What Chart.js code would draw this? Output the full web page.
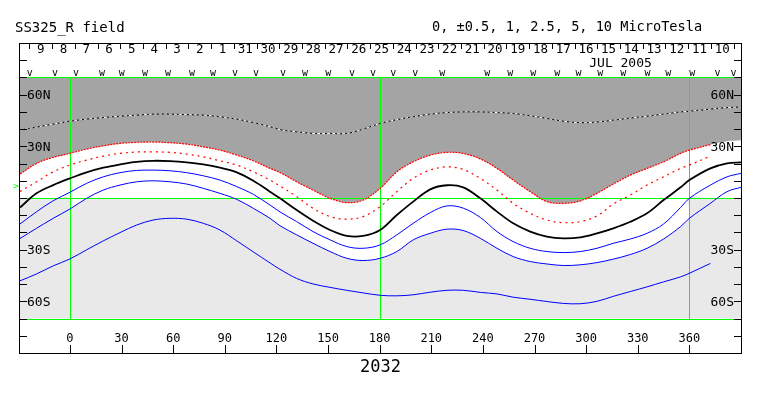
<!DOCTYPE html>
<html>
<head>
<meta charset="utf-8">
<script src="https://cdn.jsdelivr.net/npm/chart.js@4.4.1/dist/chart.umd.min.js"></script>
<style>
  body { margin: 0; background: #fff; }
  #wrap { position: relative; width: 763px; height: 396px; }
  .txt { position: absolute; font-family: "DejaVu Sans Mono", monospace; line-height: 1; white-space: pre; color: #000; }
</style>
</head>
<body>
<div id="wrap">
  <canvas id="map"></canvas>
  <div class="txt" style="left:15px;top:20px;font-size:14px">SS325_R field</div>
  <div class="txt" style="left:432px;top:20px;font-size:13.6px">0, ±0.5, 1, 2.5, 5, 10 MicroTesla</div>
  <div class="txt" style="left:360px;top:358px;font-size:17px">2032</div>
</div>
<script>
// carrington longitude of each reading
const lon = [-29, -19.4, -9.7, 0, 9.7, 19.4, 29.1, 38.8, 48.4, 58.2,
  67.9, 77.5, 87.2, 97, 106.6, 116.3, 122.1, 131.8, 141.3, 151.2,
  160.9, 170.4, 180.3, 190, 199.5, 209.4, 219.1, 228.6, 238.5, 248.2,
  257.6, 267.5, 277.2, 286.7, 296.6, 306.3, 315.8, 325.7, 335.4, 345,
  354.9, 360, 372.2, 381.9, 390]

// contour latitudes
const latWhite = [39.4, 41.2, 42.9, 44.6, 45.8, 46.7, 47.5, 48.1, 48.7, 48.7,
  48.4, 48.1, 47.2, 45.8, 43.8, 41.4, 39.7, 38.4, 37.5, 37.5,
  37.5, 40.0, 43.3, 45.5, 47.2, 48.7, 49.6, 50.0, 50.0, 49.6,
  49.1, 47.8, 46.2, 44.6, 43.7, 44.1, 45.2, 46.4, 47.5, 48.7,
  50.0, 50.4, 51.6, 52.5, 52.8]
// red1 also bounds the dark shading (last two points only shade)
const latRed1 = [13.9, 20.1, 23.6, 25.9, 28.4, 30.3, 31.7, 32.3, 32.5, 32.1,
  31.3, 29.7, 27.8, 24.9, 21.6, 17.2, 14.8, 9.4, 4.6, -0.2,
  -2.7, -1.2, 5.6, 15.2, 21.0, 24.9, 26.5, 25.9, 22.7, 17.2,
  10.4, 3.7, -2.1, -3.1, -1.7, 2.7, 8.1, 13.3, 17.2, 21.0,
  25.9, 27.8, 31.0, 33.0, 33.6]
const red1Points = 43
const latRed2 = [3.8, 9.4, 15.2, 19.1, 22.0, 24.3, 25.9, 26.7, 26.8, 26.5,
  25.5, 23.9, 21.6, 19.1, 15.2, 10.4, 7.0, 0.8, -6.0, -10.8,
  -12.3, -10.8, -5.0, 3.7, 11.4, 16.2, 18.1, 16.6, 11.4, 4.6,
  -3.1, -8.9, -12.8, -14.3, -13.7, -10.4, -3.5, 1.7, 7.5, 12.3,
  17.2, 19.1, 24.3, null, null]
const latNeutral = [-5.5, 2.7, 7.5, 11.4, 14.9, 17.6, 19.5, 21.0, 21.6, 21.4,
  20.7, 19.5, 17.6, 14.9, 10.0, 3.7, -0.2, -7.0, -13.2, -18.6,
  -22.0, -22.0, -18.6, -9.9, -2.1, 5.0, 7.4, 6.2, -0.2, -7.9,
  -14.7, -19.5, -22.4, -23.4, -22.8, -20.5, -17.6, -13.8, -8.9, -1.2,
  6.2, 10.4, 17.2, 20.1, 20.7]
const latBlue1 = [-15.1, -8.0, -1.6, 3.3, 8.5, 12.3, 14.7, 16.0, 16.2, 15.8,
  14.7, 12.9, 10.4, 6.6, 2.1, -4.1, -8.1, -13.7, -19.5, -24.3,
  -28.2, -29.2, -27.2, -21.4, -14.7, -8.5, -4.6, -5.9, -11.3, -19.5,
  -25.3, -29.2, -31.1, -31.7, -31.1, -29.2, -26.3, -23.8, -20.5, -15.1,
  -5.5, -0.2, 7.5, 12.3, 14.3]
const latBlue2 = [-23.5, -17.6, -11.8, -6.4, -0.2, 4.6, 7.5, 9.4, 10.0, 9.4,
  8.1, 5.6, 2.7, -0.8, -6.0, -11.8, -16.1, -21.4, -26.3, -31.1,
  -35.0, -36.3, -35.0, -31.1, -24.3, -20.5, -18.1, -18.9, -23.4, -29.2,
  -34.0, -36.9, -38.3, -39.2, -38.8, -37.5, -35.5, -32.8, -29.2, -23.8,
  -16.6, -11.8, -3.1, 3.7, 6.2]
const latBlue3 = [-48.1, -44.1, -39.4, -35.4, -30.1, -24.9, -20.1, -15.7, -12.8, -11.8,
  -12.3, -14.7, -18.6, -24.9, -31.3, -37.7, -41.4, -46.7, -49.9, -51.9,
  -53.6, -55.1, -56.5, -56.8, -56.2, -54.7, -53.6, -53.6, -54.8, -55.7,
  -57.6, -58.8, -60.1, -61.2, -61.4, -60.0, -57.1, -54.3, -51.6, -48.7,
  -45.8, -43.7, -38.0, null, null]

// axes
const lonTicks = [0, 30, 60, 90, 120, 150, 180, 210, 240, 270, 300, 330, 360]
const latTicks = [-80, -70, -60, -50, -40, -30, -20, -10, 0, 10, 20, 30, 40, 50, 60, 70, 80]
const latLabelVals = [60, 30, -30, -60]
const latLabelText = ["60N", "30N", "30S", "60S"]
const greenLat = [70, 0, -70]
const greenLon = [0, 180, 360]

// date strip on top
const dayLabels = [9, 8, 7, 6, 5, 4, 3, 2, 1, 31, 30, 29, 28, 27, 26, 25, 24, 23, 22, 21, 20, 19, 18, 17, 16, 15, 14, 13, 12, 11, 10]
const dayStartLon = -23.5
const degPerDay = 360 / 27.2753
const monthText = "JUL 2005"
const monthLon = 320
const obsLon = [-23.3, -8.7, 3.5, 18.6, 30.2, 43.6, 57.0, 71.0, 83.2, 96.0, 108.2, 123.9, 136.7, 150.1, 164.0, 176.2,
  187.9, 200.7, 216.4, 242.5, 255.9, 269.3, 283.2, 295.5, 308.2, 321.6, 335.6, 347.8, 361.7, 376.3, 385.6]
const obsMark = ["v", "v", "v", "w", "w", "w", "w", "w", "w", "v", "v", "v", "w", "w", "v", "v",
  "v", "v", "w", "w", "w", "w", "w", "w", "w", "w", "w", "w", "w", "v", "v"]
const earthLat = 6.7

const pts = (arr) => lon.map((x, i) => ({ x: x, y: arr[i] }))

// light shading: south of the equator, and south of the second blue contour inside 0..360
const lightEdge = []
lon.forEach((x, i) => {
  if (x < 0 || x > 360) {
    lightEdge.push({ x: x, y: 0 })
  } else {
    if (x === 0) lightEdge.push({ x: 0, y: 0 })
    lightEdge.push({ x: x, y: Math.min(0, latBlue2[i]) })
    if (x === 360) lightEdge.push({ x: 360, y: 0 })
  }
})

const line = (data, color, width, extra) => Object.assign({
  data: data, borderColor: color, borderWidth: width, pointRadius: 0,
  tension: 0.35, fill: false, spanGaps: false
}, extra || {})

const decor = {
  id: "decor",
  beforeDatasetsDraw(chart) {
    const { ctx, chartArea: a, scales: { x, y } } = chart
    ctx.save()
    ctx.strokeStyle = "#00ff00"
    ctx.lineWidth = 1
    ctx.beginPath()
    greenLat.forEach(v => {
      const py = Math.round(y.getPixelForValue(v)) + 0.5
      ctx.moveTo(a.left, py); ctx.lineTo(a.right + 1, py)
    })
    greenLon.forEach(v => {
      const px = Math.round(x.getPixelForValue(v)) + 0.5
      ctx.moveTo(px, Math.round(y.getPixelForValue(70)))
      ctx.lineTo(px, Math.round(y.getPixelForValue(-70)))
    })
    ctx.stroke()
    ctx.restore()
  },
  afterDraw(chart) {
    const { ctx, chartArea: a, scales: { x, y } } = chart
    ctx.save()
    ctx.strokeStyle = "#000"
    ctx.fillStyle = "#000"
    ctx.lineWidth = 1
    ctx.strokeRect(a.left - 0.5, a.top + 0.5, a.right - a.left + 1, a.bottom - a.top)

    ctx.beginPath()
    latTicks.forEach(v => {
      const py = Math.round(y.getPixelForValue(v)) + 0.5
      ctx.moveTo(a.left, py); ctx.lineTo(a.left + 7, py)
      ctx.moveTo(a.right - 7, py); ctx.lineTo(a.right + 1, py)
    })
    lonTicks.forEach(v => {
      const px = Math.round(x.getPixelForValue(v)) + 0.5
      ctx.moveTo(px, a.bottom + 1); ctx.lineTo(px, a.bottom - 8)
    })
    for (let k = 0; k <= dayLabels.length; k++) {
      const px = Math.round(x.getPixelForValue(dayStartLon + k * degPerDay)) + 0.5
      ctx.moveTo(px, a.top); ctx.lineTo(px, a.top + 6)
    }
    ctx.stroke()

    ctx.font = '13px "DejaVu Sans Mono"'
    ctx.textBaseline = "middle"
    latLabelVals.forEach((v, i) => {
      const py = y.getPixelForValue(v) + 1
      ctx.textAlign = "left"
      ctx.fillText(latLabelText[i], a.left + 7, py)
      ctx.textAlign = "right"
      ctx.fillText(latLabelText[i], a.right - 7, py)
    })

    ctx.textBaseline = "alphabetic"
    ctx.textAlign = "center"
    ctx.font = '12px "DejaVu Sans Mono"'
    lonTicks.forEach(v => ctx.fillText(String(v), x.getPixelForValue(v), a.bottom - 11))

    ctx.font = '12.5px "DejaVu Sans Mono"'
    dayLabels.forEach((d, k) => {
      ctx.fillText(String(d), x.getPixelForValue(dayStartLon + (k + 0.5) * degPerDay), a.top + 10)
    })
    ctx.font = '13px "DejaVu Sans Mono"'
    ctx.fillText(monthText, x.getPixelForValue(monthLon), a.top + 24)

    ctx.font = '10px "DejaVu Sans Mono"'
    obsLon.forEach((v, i) => ctx.fillText(obsMark[i], x.getPixelForValue(v), a.top + 33))

    ctx.fillStyle = "#00ff00"
    ctx.font = '9px "DejaVu Sans Mono"'
    ctx.textBaseline = "middle"
    ctx.fillText(">", a.left - 4, y.getPixelForValue(earthLat))
    ctx.restore()
  }
}

new Chart(document.getElementById("map"), {
  type: "line",
  data: {
    datasets: [
      line(pts(latNeutral), "#000000", 1.8),
      line(pts(latBlue1), "#0000ff", 1),
      line(pts(latBlue2), "#0000ff", 1),
      line(pts(latBlue3), "#0000ff", 1),
      line(pts(latRed2), "#ff0000", 1.2, { borderDash: [2, 4] }),
      line(pts(latRed1).slice(0, red1Points), "#ff0000", 1.2, { borderDash: [2, 1] }),
      line(pts(latWhite), "#ffffff", 1, { borderDash: [3, 2] }),
      line(pts(latWhite), "#000000", 1),
      line(pts(latRed1), "rgba(0,0,0,0)", 0, { fill: { value: 70 }, backgroundColor: "#a4a4a4" }),
      line(lightEdge, "rgba(0,0,0,0)", 0, { fill: { value: -70 }, backgroundColor: "#e9e9e9" })
    ]
  },
  options: {
    responsive: true,
    maintainAspectRatio: false,
    animation: false,
    devicePixelRatio: 1,
    events: [],
    layout: { padding: { left: 20, right: 22, top: 43, bottom: 43 } },
    scales: {
      x: { type: "linear", min: -29, max: 390, display: false },
      y: { type: "linear", min: -90, max: 90, display: false }
    },
    plugins: {
      legend: { display: false },
      tooltip: { enabled: false },
      filler: { drawTime: "beforeDatasetsDraw" }
    }
  },
  plugins: [decor]
})
</script>
</body>
</html>
